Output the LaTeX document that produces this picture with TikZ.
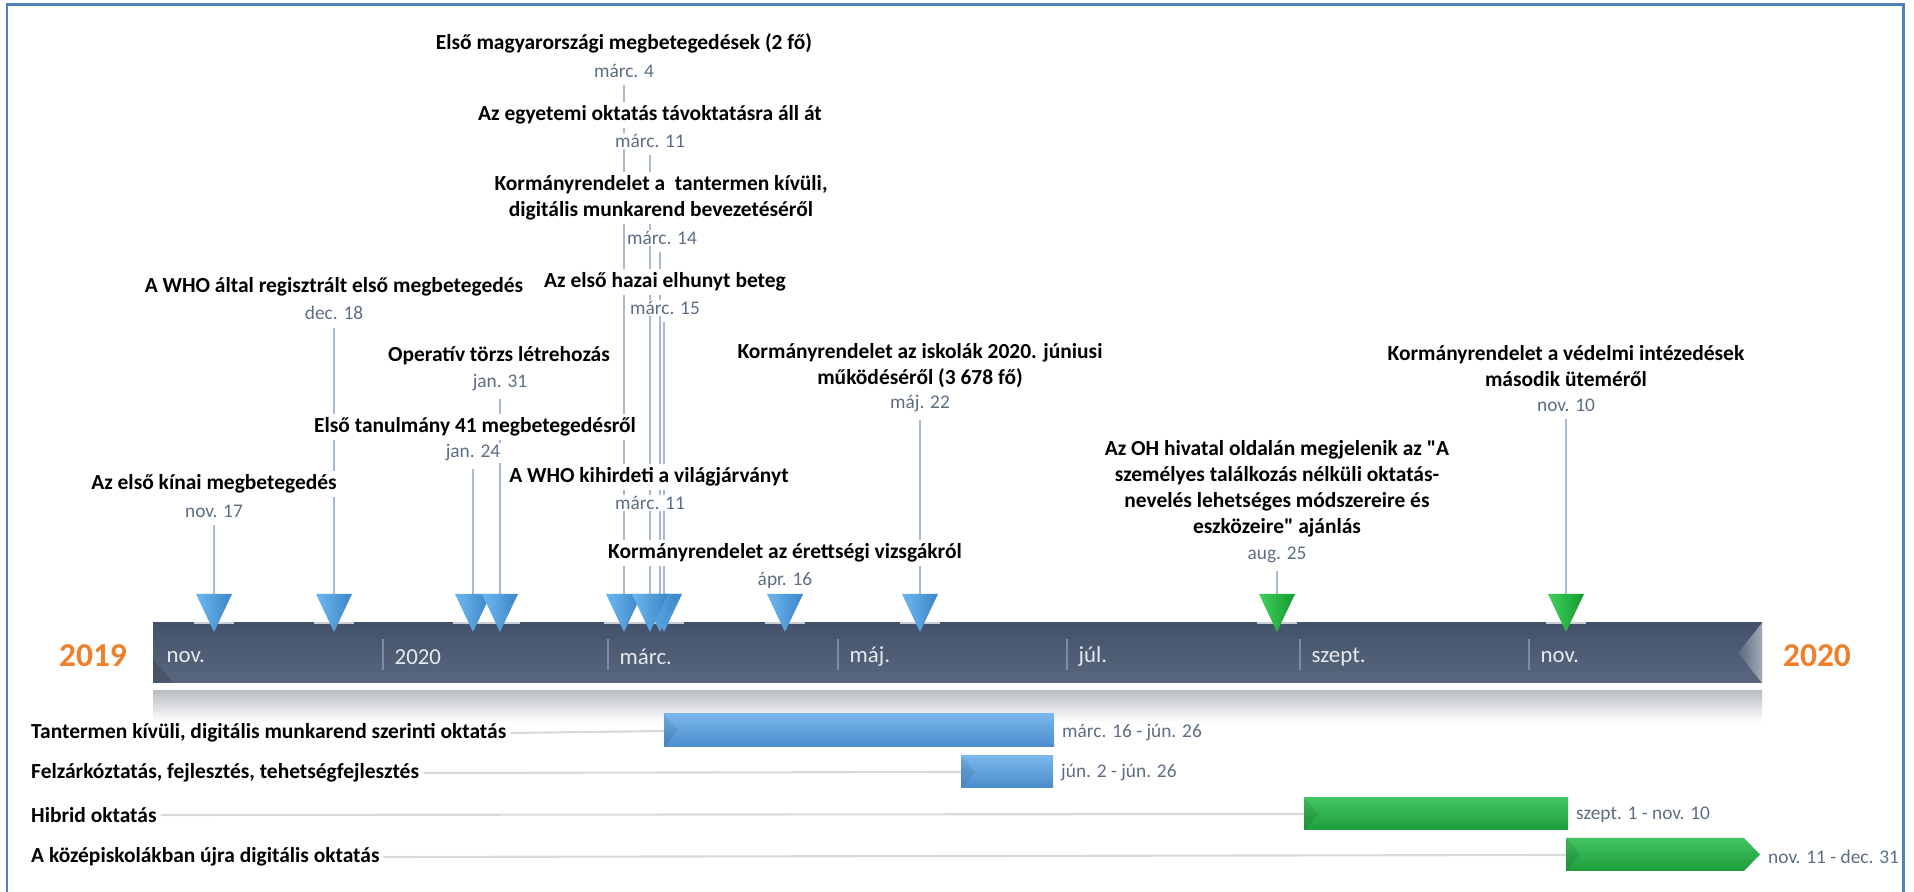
\documentclass[tikz,border=0pt]{standalone}
\usepackage{fontspec}
\setmainfont{Carlito}[Ligatures=TeXOff]
\usetikzlibrary{backgrounds}
\definecolor{frameCol}{HTML}{4F81BD}
\definecolor{barTop}{HTML}{44516A}
\definecolor{barBot}{HTML}{58677E}
\definecolor{sepCol}{HTML}{7D8AA0}
\definecolor{monCol}{HTML}{E6E9EE}
\definecolor{yrCol}{HTML}{F07F2A}
\definecolor{dateCol}{HTML}{5D6D85}
\definecolor{pinCol}{HTML}{A9B9D1}
\definecolor{trackCol}{HTML}{D9D9D9}
\definecolor{triL}{HTML}{6FB7EE}
\definecolor{triR}{HTML}{3985C8}
\definecolor{gtriL}{HTML}{3FD05E}
\definecolor{gtriR}{HTML}{149A2E}
\definecolor{bbarT}{HTML}{79B7EC}
\definecolor{bbarB}{HTML}{4A8CCB}
\definecolor{gbarT}{HTML}{42C463}
\definecolor{gbarB}{HTML}{1D9C3A}
\definecolor{hlCol}{HTML}{C9CED6}
\begin{document}
\begin{tikzpicture}[x=0.01cm, y=-0.01cm,
    ev/.style={font=\bfseries\fontsize{6.1}{7.4}\selectfont, fill=white, inner sep=1pt, align=center},
    dt/.style={font=\fontsize{5.5}{6.6}\selectfont, text=dateCol, fill=white, inner sep=0.5pt},
    pin/.style={draw=pinCol, line width=0.4pt, shorten <=1.5pt},
    mon/.style={font=\fontsize{6.5}{8}\selectfont, text=monCol, anchor=west, inner sep=0pt},
    yr/.style={font=\bfseries\fontsize{9.5}{11}\selectfont, text=yrCol},
    row/.style={font=\bfseries\fontsize{6.1}{7.4}\selectfont, anchor=west, inner sep=1pt},
    rng/.style={font=\fontsize{5.5}{6.6}\selectfont, text=dateCol, anchor=west, inner sep=1pt},
    track/.style={draw=trackCol, line width=0.6pt},
    bluebar/.style={top color=bbarT, bottom color=bbarB},
    greenbar/.style={top color=gbarT, bottom color=gbarB}]
  \useasboundingbox (0,0) rectangle (1914,892);
  % frame
  \draw[frameCol, line width=0.85pt] (7,892) -- (7,5) -- (1903,5) -- (1903,892);

  % time bar
  \shade[top color=hlCol!80!gray, bottom color=white] (153,691) rectangle (1762,722);
  \shade[top color=barTop, bottom color=barBot] (153,623) rectangle (1762,683);
  \fill[black, opacity=0.15] (153,660) -- (153,683) -- (174,683) -- cycle;
  \shade[left color=barBot, right color=barBot!55!white] (1738,653) -- (1762,623) -- (1762,683) -- cycle;
  \foreach \x in {383,608,838,1067,1300,1529}
    \draw[sepCol, line width=0.4pt] (\x,639) -- (\x,670);
  \node[mon] (mNov) at (166,657) {nov.};
  \node[mon] (mJan) at (394,657) {2020};
  \node[mon] (mMar) at (619,657) {márc.};
  \node[mon] (mMay) at (849,657) {máj.};
  \node[mon] (mJul) at (1078,657) {júl.};
  \node[mon] (mSep) at (1311,657) {szept.};
  \node[mon] (mNov2) at (1540,657) {nov.};
  \node[yr] (y2019) at (93,656) {2019};
  \node[yr] (y2020) at (1817,656) {2020};

  % markers
  \foreach \x/\n in {214/nov17, 334/dec18, 473/jan24, 500/jan31, 664/mar15, 660/mar14, 624/mar4, 650/mar11, 785/apr16, 920/may22, 1277/aug25, 1566/nov10} {
    \draw[hlCol, line width=0.6pt] (\x-20,623) -- (\x+20,623);
    \coordinate (\n) at (\x,594);
  }
  \foreach \x in {214,334,473,500,664,660,624,650,785,920}
    \shade[left color=triL, right color=triR] (\x-18,594) -- (\x+18,594) -- (\x,632) -- cycle;
  \foreach \x in {1277,1566}
    \shade[left color=gtriL, right color=gtriR] (\x-18,594) -- (\x+18,594) -- (\x,632) -- cycle;

  % events
  \node[ev] (e1) at (624,43) {Első magyarországi megbetegedések (2 fő)};
  \node[dt] (d1) at (624,71) {márc. 4};
  \node[ev] (e2) at (650,115) {Az egyetemi oktatás távoktatásra áll át};
  \node[dt] (d2) at (650,141) {márc. 11};
  \node[ev] (e3) at (661,198) {Kormányrendelet a\ \ tantermen kívüli,\\digitális munkarend bevezetéséről};
  \node[dt] (d3) at (662,238) {márc. 14};
  \node[ev] (e4) at (665,282) {Az első hazai elhunyt beteg};
  \node[dt] (d4) at (665,308) {márc. 15};
  \node[ev] (e5) at (334,287) {A WHO által regisztrált első megbetegedés};
  \node[dt] (d5) at (334,313) {dec. 18};
  \node[ev] (e6) at (499,356) {Operatív törzs létrehozás};
  \node[dt] (d6) at (500,383) {jan. 31};
  \node[ev] (e7) at (475,427) {Első tanulmány 41 megbetegedésről};
  \node[dt] (d7) at (473,453) {jan. 24};
  \node[ev] (e8) at (920,366) {Kormányrendelet az iskolák 2020. júniusi\\működéséről (3 678 fő)};
  \node[dt] (d8) at (920,404) {máj. 22};
  \node[ev] (e9) at (1566,366) {Kormányrendelet a védelmi intézedések\\második üteméről};
  \node[dt] (d9) at (1566,405) {nov. 10};
  \node[ev] (e10) at (214,484) {Az első kínai megbetegedés};
  \node[dt] (d10) at (214,511) {nov. 17};
  \node[ev] (e11) at (649,477) {A WHO kihirdeti a világjárványt};
  \node[dt] (d11) at (650,503) {márc. 11};
  \node[ev] (e12) at (785,553) {Kormányrendelet az érettségi vizsgákról};
  \node[dt] (d12) at (785,580) {ápr. 16};
  \node[ev] (e13) at (1277,489) {Az OH hivatal oldalán megjelenik az "A\\személyes találkozás nélküli oktatás-\\nevelés lehetséges módszereire és\\eszközeire" ajánlás};
  \node[dt] (d13) at (1277,555) {aug. 25};

  \begin{scope}[on background layer]
    \draw[pin] (d1.south) -- (mar4);
    \draw[pin] (d2.south) -- (mar11);
    \draw[pin] (d3.south -| mar14) -- (mar14);
    \draw[pin] (d4.south -| mar15) -- (mar15);
    \draw[pin] (d5.south) -- (dec18);
    \draw[pin] (d6.south) -- (jan31);
    \draw[pin] (d7.south) -- (jan24);
    \draw[pin] (d8.south) -- (may22);
    \draw[pin] (d9.south) -- (nov10);
    \draw[pin] (d10.south) -- (nov17);
    \draw[pin] (d11.south) -- (mar11);
    \draw[pin] (d13.south) -- (aug25);
  \end{scope}

  % gantt rows
  \node[row] (r1) at (27,733) {Tantermen kívüli, digitális munkarend szerinti oktatás};
  \node[row] (r2) at (27,773) {Felzárkóztatás, fejlesztés, tehetségfejlesztés};
  \node[row] (r3) at (27,815) {Hibrid oktatás};
  \node[row] (r4) at (27,857) {A középiskolákban újra digitális oktatás};
  \coordinate (g1) at (664,731);
  \coordinate (g2) at (961,772);
  \coordinate (g3) at (1304,814);
  \coordinate (g4) at (1566,855);
  \draw[track] (r1.east) -- (g1);
  \draw[track] (r2.east) -- (g2);
  \draw[track] (r3.east) -- (g3);
  \draw[track] (r4.east) -- (g4);
  \shade[bluebar] (664,714) rectangle (1054,747);
  \shade[bluebar] (961,756) rectangle (1053,788);
  \shade[greenbar] (1304,798) rectangle (1568,830);
  \shade[greenbar] (1566,838) -- (1744,838) -- (1760,854.5) -- (1744,871) -- (1566,871) -- cycle;
  \foreach \x/\y in {664/714, 961/756, 1304/798, 1566/838}
    \fill[black, opacity=0.08] (\x,\y) -- (\x+14,\y+16) -- (\x,\y+33) -- cycle;
  \node[rng] (n1) at (1058,733) {márc. 16 - jún. 26};
  \node[rng] (n2) at (1057,773) {jún. 2 - jún. 26};
  \node[rng] (n3) at (1572,815) {szept. 1 - nov. 10};
  \node[rng] (n4) at (1764,857) {nov. 11 - dec. 31};
\end{tikzpicture}
\end{document}
